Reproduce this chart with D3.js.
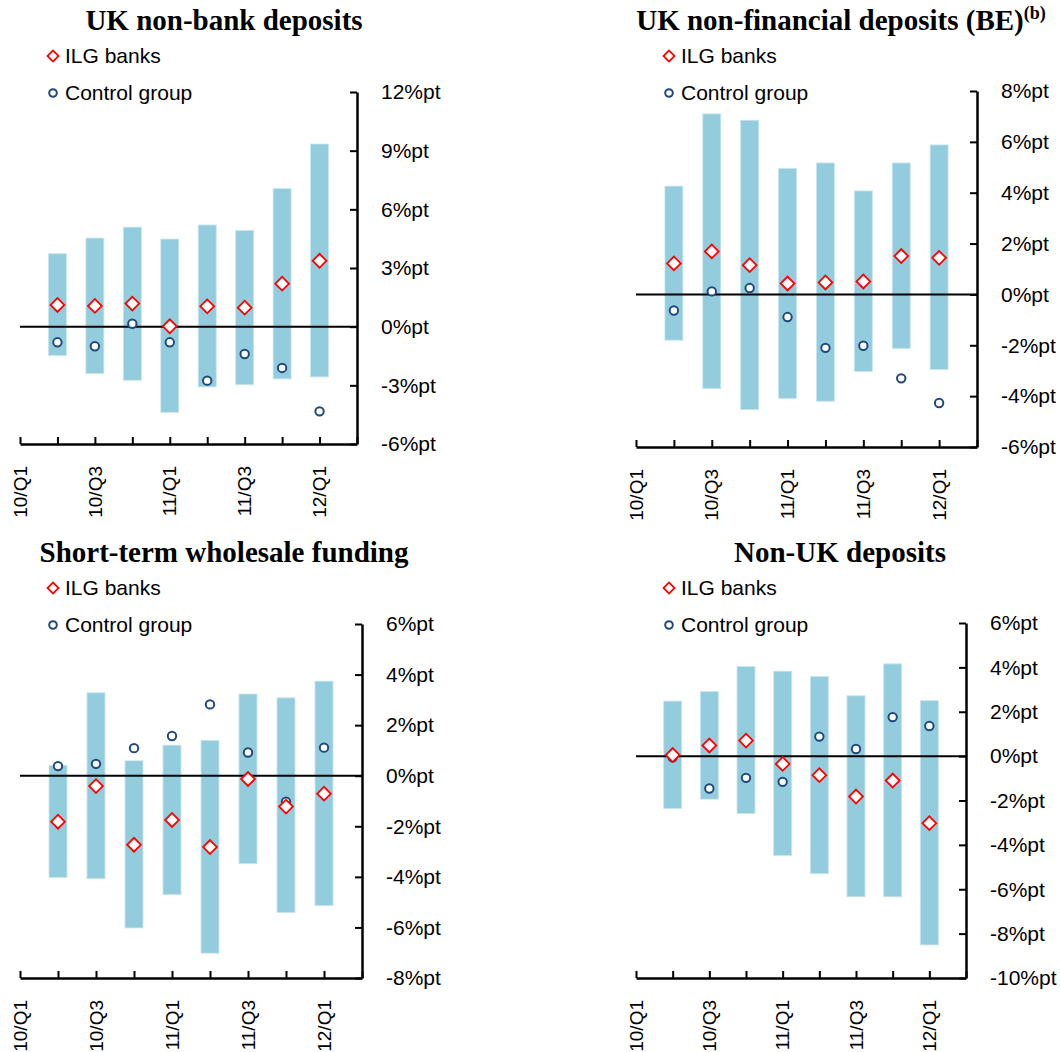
<!DOCTYPE html>
<html lang="en">
<head>
    <meta charset="UTF-8">
    <title>ILG banks vs control group: funding changes</title>
    <script src="https://cdn.jsdelivr.net/npm/d3@7/dist/d3.min.js"></script>
    <style>
        body { margin: 0; background: #fff; }
        .tick-label { font: 21px "Liberation Sans", Arial, sans-serif; fill: #000; }
        .x-label { font: 19px "Liberation Sans", Arial, sans-serif; fill: #000; }
        .legend text { font: 21px "Liberation Sans", Arial, sans-serif; fill: #000; }
        .title { font: bold 29px "Liberation Serif", "Times New Roman", serif; fill: #000; }
    </style>
</head>
<body>
    <div id="chart"></div>
    <script>
        // quarters on the x axis (data starts at 10/Q2)
        const quarters = ["10/Q1", "10/Q2", "10/Q3", "10/Q4", "11/Q1", "11/Q2", "11/Q3", "11/Q4", "12/Q1", "12/Q2"];
        const dataQuarters = ["10/Q2", "10/Q3", "10/Q4", "11/Q1", "11/Q2", "11/Q3", "11/Q4", "12/Q1"];
        const labelQuarters = ["10/Q1", "10/Q3", "11/Q1", "11/Q3", "12/Q1"];

        // UK non-bank deposits
        const nonBankLow  = [-1.47, -2.39, -2.74, -4.38, -3.08, -2.97, -2.67, -2.57];
        const nonBankHigh = [3.73, 4.53, 5.09, 4.48, 5.20, 4.92, 7.06, 9.34];
        const nonBankILG  = [1.11, 1.06, 1.18, 0.02, 1.04, 0.97, 2.20, 3.37];
        const nonBankCtrl = [-0.80, -1.00, 0.15, -0.80, -2.76, -1.40, -2.11, -4.33];
        const nonBankTicks = [-6, -3, 0, 3, 6, 9, 12];

        // UK non-financial deposits (BE)
        const nonFinLow  = [-1.80, -3.70, -4.53, -4.09, -4.20, -3.03, -2.13, -2.95];
        const nonFinHigh = [4.26, 7.10, 6.85, 4.96, 5.17, 4.07, 5.17, 5.88];
        const nonFinILG  = [1.22, 1.69, 1.15, 0.43, 0.47, 0.51, 1.51, 1.44];
        const nonFinCtrl = [-0.63, 0.12, 0.25, -0.89, -2.10, -2.02, -3.30, -4.27];
        const nonFinTicks = [-6, -4, -2, 0, 2, 4, 6, 8];

        // Short-term wholesale funding
        const wholesaleLow  = [-4.02, -4.07, -6.02, -4.70, -7.02, -3.48, -5.41, -5.14];
        const wholesaleHigh = [0.41, 3.28, 0.59, 1.21, 1.40, 3.23, 3.08, 3.74];
        const wholesaleILG  = [-1.82, -0.41, -2.73, -1.75, -2.82, -0.13, -1.22, -0.71];
        const wholesaleCtrl = [0.38, 0.47, 1.09, 1.57, 2.82, 0.92, -1.03, 1.11];
        const wholesaleTicks = [-8, -6, -4, -2, 0, 2, 4, 6];

        // Non-UK deposits
        const nonUKLow  = [-2.36, -1.94, -2.59, -4.48, -5.30, -6.34, -6.34, -8.51];
        const nonUKHigh = [2.48, 2.91, 4.04, 3.83, 3.59, 2.72, 4.16, 2.50];
        const nonUKILG  = [0.05, 0.48, 0.70, -0.35, -0.86, -1.82, -1.10, -3.02];
        const nonUKCtrl = [-0.05, -1.46, -0.98, -1.16, 0.88, 0.32, 1.76, 1.36];
        const nonUKTicks = [-10, -8, -6, -4, -2, 0, 2, 4, 6];

        const panels = [
            { title: "UK non-bank deposits", sup: null, low: nonBankLow, high: nonBankHigh, ilg: nonBankILG, ctrl: nonBankCtrl, ticks: nonBankTicks,
              x0: 20, x1: 357, yTop: 92, yBot: 444, titleX: 224, titleY: 30, legY: 56 },
            { title: "UK non-financial deposits (BE)", sup: "(b)", low: nonFinLow, high: nonFinHigh, ilg: nonFinILG, ctrl: nonFinCtrl, ticks: nonFinTicks,
              x0: 636, x1: 977, yTop: 91, yBot: 447, titleX: 841, titleY: 30, legY: 56 },
            { title: "Short-term wholesale funding", sup: null, low: wholesaleLow, high: wholesaleHigh, ilg: wholesaleILG, ctrl: wholesaleCtrl, ticks: wholesaleTicks,
              x0: 20, x1: 362, yTop: 624, yBot: 978, titleX: 224, titleY: 562, legY: 588 },
            { title: "Non-UK deposits", sup: null, low: nonUKLow, high: nonUKHigh, ilg: nonUKILG, ctrl: nonUKCtrl, ticks: nonUKTicks,
              x0: 636, x1: 966, yTop: 623, yBot: 978, titleX: 840, titleY: 562, legY: 588 }
        ];

        const barColor = "#93cddd";
        const ilgColor = "#ff0000";
        const ctrlColor = "#1f497d";

        const svg = d3.select("#chart")
            .append("svg")
            .attr("width", 1060)
            .attr("height", 1052);

        const diamond = d3.symbol().type(d3.symbolSquare);

        panels.forEach(p => {
            const g = svg.append("g");

            const x = d3.scalePoint()
                .domain(quarters)
                .range([p.x0, p.x1]);

            const y = d3.scaleLinear()
                .domain(d3.extent(p.ticks))
                .range([p.yBot, p.yTop]);

            const rows = dataQuarters.map((q, i) => ({
                q: q, low: p.low[i], high: p.high[i], ilg: p.ilg[i], ctrl: p.ctrl[i]
            }));

            // range bars
            g.append("g")
                .selectAll("rect")
                .data(rows)
                .enter().append("rect")
                .attr("x", d => x(d.q) - 9)
                .attr("width", 18)
                .attr("y", d => y(d.high))
                .attr("height", d => y(d.low) - y(d.high))
                .attr("fill", barColor)
                .attr("stroke", "#c8e7ef")
                .attr("stroke-width", 0.8);

            // zero line
            g.append("line")
                .attr("x1", p.x0)
                .attr("x2", p.x1)
                .attr("y1", y(0))
                .attr("y2", y(0))
                .attr("stroke", "#000")
                .attr("stroke-width", 2);

            // x axis (ticks point up into the plot)
            const xAxis = g.append("g")
                .attr("transform", "translate(0," + p.yBot + ")")
                .call(d3.axisBottom(x).tickSizeInner(-7).tickSizeOuter(0).tickFormat(""));
            xAxis.select(".domain").attr("stroke-width", 2.5);
            xAxis.selectAll(".tick line").attr("stroke-width", 2);

            g.append("g")
                .selectAll("text")
                .data(labelQuarters)
                .enter().append("text")
                .attr("class", "x-label")
                .attr("transform", d => "translate(" + x(d) + "," + (p.yBot + 22) + ") rotate(-90)")
                .attr("text-anchor", "end")
                .attr("dy", "0.35em")
                .text(d => d);

            // y axis on the right, ticks point into the plot
            const yAxis = g.append("g")
                .attr("transform", "translate(" + p.x1 + ",0)")
                .call(d3.axisRight(y).tickValues(p.ticks).tickSizeInner(-7).tickSizeOuter(0).tickFormat(""));
            yAxis.select(".domain").attr("stroke-width", 2.5);
            yAxis.selectAll(".tick line").attr("stroke-width", 2);

            g.append("g")
                .selectAll("text")
                .data(p.ticks)
                .enter().append("text")
                .attr("class", "tick-label")
                .attr("x", p.x1 + 24)
                .attr("y", d => y(d))
                .attr("dy", "0.35em")
                .text(d => d + "%pt");

            // control group circles
            g.append("g")
                .selectAll("circle")
                .data(rows)
                .enter().append("circle")
                .attr("cx", d => x(d.q))
                .attr("cy", d => y(d.ctrl))
                .attr("r", 4.2)
                .attr("fill", "#fff")
                .attr("stroke", ctrlColor)
                .attr("stroke-width", 2);

            // ILG diamonds
            g.append("g")
                .selectAll("path")
                .data(rows)
                .enter().append("path")
                .attr("d", diamond.size(95))
                .attr("transform", d => "translate(" + x(d.q) + "," + y(d.ilg) + ") rotate(45)")
                .attr("fill", "#fff")
                .attr("stroke", ilgColor)
                .attr("stroke-width", 1.8);

            // title
            const title = g.append("text")
                .attr("class", "title")
                .attr("x", p.titleX)
                .attr("y", p.titleY)
                .attr("text-anchor", "middle")
                .text(p.title);
            if (p.sup) {
                title.append("tspan")
                    .attr("dy", -11)
                    .style("font-size", "18px")
                    .text(p.sup);
            }

            // legend
            const leg = g.append("g").attr("class", "legend");
            const lx = p.x0 + 33;
            leg.append("path")
                .attr("d", diamond.size(60))
                .attr("transform", "translate(" + lx + "," + p.legY + ") rotate(45)")
                .attr("fill", "#fff")
                .attr("stroke", ilgColor)
                .attr("stroke-width", 1.8);
            leg.append("text")
                .attr("x", lx + 12)
                .attr("y", p.legY)
                .attr("dy", "0.35em")
                .text("ILG banks");
            leg.append("circle")
                .attr("cx", lx)
                .attr("cy", p.legY + 37)
                .attr("r", 3.8)
                .attr("fill", "#fff")
                .attr("stroke", ctrlColor)
                .attr("stroke-width", 2);
            leg.append("text")
                .attr("x", lx + 12)
                .attr("y", p.legY + 37)
                .attr("dy", "0.35em")
                .text("Control group");
        });
    </script>
</body>
</html>
